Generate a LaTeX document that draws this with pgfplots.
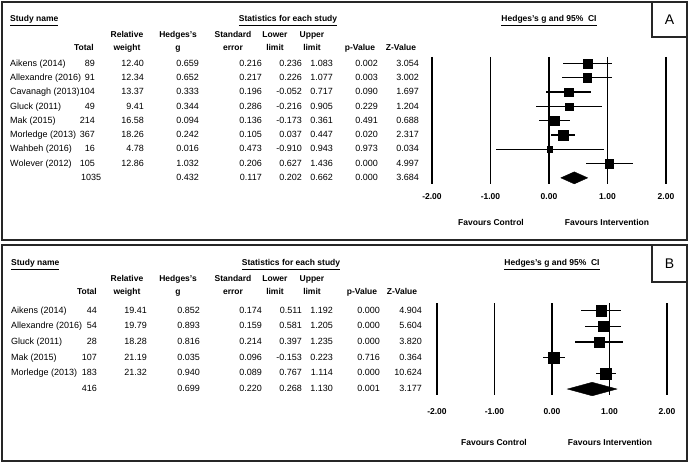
\documentclass[border=0pt]{standalone}
\usepackage{fontspec}
\setmainfont{Liberation Sans}
\usepackage{pgfplots}
\usepackage{pgfplotstable}
\pgfplotsset{compat=1.18}

\pgfplotstableread{
row g lo hi w
1 0.659 0.236 1.083 12.40
2 0.652 0.226 1.077 12.34
3 0.333 -0.052 0.717 13.37
4 0.344 -0.216 0.905 9.41
5 0.094 -0.173 0.361 16.58
6 0.242 0.037 0.447 18.26
7 0.016 -0.910 0.943 4.78
8 1.032 0.627 1.436 12.86
}\studiesA

\pgfplotstableread{
row g lo hi w
1 0.852 0.511 1.192 19.41
2 0.893 0.581 1.205 19.79
3 0.816 0.397 1.235 18.28
4 0.035 -0.153 0.223 21.19
5 0.940 0.767 1.114 21.32
}\studiesB

\newcommand{\dat}{\fontsize{9}{10}\selectfont}
\newcommand{\hdr}{\fontsize{8.5}{9.5}\selectfont\bfseries}

\pgfplotsset{
  forest/.style={
    scale only axis, clip=false,
    xmin=-2, xmax=2,
    axis line style={draw=none},
    ytick=\empty,
    xtick={-2,-1,0,1,2},
    xticklabels={-2.00,-1.00,0.00,1.00,2.00},
    major tick length=0pt,
  },
  sq/.style={
    scatter, only marks, mark=square*, point meta=\thisrow{w},
    scatter/use mapped color={draw=black, fill=black},
    visualization depends on={1.2*sqrt(\thisrow{w}) \as \hs},
    scatter/@pre marker code/.append style={/tikz/mark size=\hs},
    error bars/.cd, x dir=both, x explicit, error mark=none,
    error bar style={line width=1.3pt, black},
  },
}

\begin{document}
\begin{tikzpicture}[x=1pt,y=-1pt,every node/.style={inner sep=0pt}]
\path[use as bounding box] (0,0) rectangle (690,463);

% ---------- Panel A ----------
\draw[line width=1.4pt, black!85] (2,2) rectangle (687,240);
\draw[line width=1.2pt, black!85] (652,2) rectangle (687,37);
\node[font=\fontsize{14}{16}\selectfont] at (669.5,19.5) {A};

\node[anchor=mid west, font=\hdr] at (10,19) {\underline{Study name}};
\node[anchor=mid, font=\hdr] at (288,19) {\underline{Statistics for each study}};
\node[anchor=mid, font=\hdr] at (549,19) {\underline{Hedges's g and 95\%\ \ CI}};
\foreach \x/\a/\b in {127/Relative/weight, 178/Hedges's/g, 233/Standard/error, 275/Lower/limit, 312/Upper/limit}{
  \node[anchor=mid, font=\hdr] at (\x,35) {\a};
  \node[anchor=mid, font=\hdr] at (\x,48) {\b};
}
\node[anchor=mid east, font=\hdr] at (94,48) {Total};
\node[anchor=mid, font=\hdr] at (360,48) {p-Value};
\node[anchor=mid, font=\hdr] at (401,48) {Z-Value};

\foreach \y/\nm/\t/\rw/\g/\se/\lo/\hi/\p/\z in {
 63.5/{Aikens (2014)}/89/12.40/0.659/0.216/0.236/1.083/0.002/3.054,
 77.8/{Allexandre (2016)}/91/12.34/0.652/0.217/0.226/1.077/0.003/3.002,
 92.1/{Cavanagh (2013)}/104/13.37/0.333/0.196/-0.052/0.717/0.090/1.697,
 106.4/{Gluck (2011)}/49/9.41/0.344/0.286/-0.216/0.905/0.229/1.204,
 120.7/{Mak (2015)}/214/16.58/0.094/0.136/-0.173/0.361/0.491/0.688,
 135.0/{Morledge (2013)}/367/18.26/0.242/0.105/0.037/0.447/0.020/2.317,
 149.3/{Wahbeh (2016)}/16/4.78/0.016/0.473/-0.910/0.943/0.973/0.034,
 163.6/{Wolever (2012)}/105/12.86/1.032/0.206/0.627/1.436/0.000/4.997}{
  \node[anchor=mid west, font=\dat] at (10,\y) {\nm};
  \node[anchor=mid east, font=\dat] at (95,\y) {\t};
  \node[anchor=mid east, font=\dat] at (144,\y) {\rw};
  \node[anchor=mid east, font=\dat] at (199,\y) {\g};
  \node[anchor=mid east, font=\dat] at (262,\y) {\se};
  \node[anchor=mid east, font=\dat] at (302,\y) {\lo};
  \node[anchor=mid east, font=\dat] at (333,\y) {\hi};
  \node[anchor=mid east, font=\dat] at (378,\y) {\p};
  \node[anchor=mid east, font=\dat] at (419,\y) {\z};
}
\node[anchor=mid west, font=\dat] at (81,177.9) {1035};
\node[anchor=mid east, font=\dat] at (199,177.9) {0.432};
\node[anchor=mid east, font=\dat] at (262,177.9) {0.117};
\node[anchor=mid east, font=\dat] at (302,177.9) {0.202};
\node[anchor=mid east, font=\dat] at (333,177.9) {0.662};
\node[anchor=mid east, font=\dat] at (378,177.9) {0.000};
\node[anchor=mid east, font=\dat] at (419,177.9) {3.684};

\node[anchor=mid, font=\hdr] at (491,223) {Favours Control};
\node[anchor=mid, font=\hdr] at (607,223) {Favours Intervention};

\begin{axis}[forest, at={(432pt,-184pt)}, anchor=south west,
  width=234pt, height=127pt, ymin=-9.43, ymax=-0.545,
  xticklabel style={font=\hdr, anchor=center, yshift=-13pt}]
  \addplot[black, line width=1.8pt] coordinates {(-2,-0.545) (-2,-9.43)};
  \addplot[black, line width=1.8pt] coordinates {(-1,-0.545) (-1,-9.43)};
  \addplot[black, line width=1.1pt] coordinates {(0,-0.545) (0,-9.43)};
  \addplot[black, line width=1.1pt] coordinates {(1,-0.545) (1,-9.43)};
  \addplot[black, line width=1.8pt] coordinates {(2,-0.545) (2,-9.43)};
  \addplot[sq] table[x=g, y expr=-\thisrow{row},
    x error plus expr=\thisrow{hi}-\thisrow{g},
    x error minus expr=\thisrow{g}-\thisrow{lo}] {\studiesA};
  \addplot[fill=black, draw=black] coordinates {(0.202,-9) (0.432,-8.58) (0.662,-9) (0.432,-9.42)} --cycle;
\end{axis}

% ---------- Panel B ----------
\draw[line width=1.4pt, black!85] (2,245) rectangle (687,461);
\draw[line width=1.2pt, black!85] (652,245) rectangle (687,282);
\node[font=\fontsize{14}{16}\selectfont] at (669.5,263.5) {B};

\node[anchor=mid west, font=\hdr] at (11,263) {\underline{Study name}};
\node[anchor=mid, font=\hdr] at (291,263) {\underline{Statistics for each study}};
\node[anchor=mid, font=\hdr] at (552,263) {\underline{Hedges's g and 95\%\ \ CI}};
\foreach \x/\a/\b in {127/Relative/weight, 178/Hedges's/g, 233/Standard/error, 275/Lower/limit, 312/Upper/limit}{
  \node[anchor=mid, font=\hdr] at (\x,279) {\a};
  \node[anchor=mid, font=\hdr] at (\x,292) {\b};
}
\node[anchor=mid east, font=\hdr] at (97,292) {Total};
\node[anchor=mid, font=\hdr] at (362,292) {p-Value};
\node[anchor=mid, font=\hdr] at (402,292) {Z-Value};

\foreach \y/\nm/\t/\rw/\g/\se/\lo/\hi/\p/\z in {
 310.5/{Aikens (2014)}/44/19.41/0.852/0.174/0.511/1.192/0.000/4.904,
 326.2/{Allexandre (2016)}/54/19.79/0.893/0.159/0.581/1.205/0.000/5.604,
 341.9/{Gluck (2011)}/28/18.28/0.816/0.214/0.397/1.235/0.000/3.820,
 357.6/{Mak (2015)}/107/21.19/0.035/0.096/-0.153/0.223/0.716/0.364,
 373.3/{Morledge (2013)}/183/21.32/0.940/0.089/0.767/1.114/0.000/10.624,
 389.0/{}/416/{}/0.699/0.220/0.268/1.130/0.001/3.177}{
  \node[anchor=mid west, font=\dat] at (11,\y) {\nm};
  \node[anchor=mid east, font=\dat] at (97,\y) {\t};
  \node[anchor=mid east, font=\dat] at (147,\y) {\rw};
  \node[anchor=mid east, font=\dat] at (200,\y) {\g};
  \node[anchor=mid east, font=\dat] at (262,\y) {\se};
  \node[anchor=mid east, font=\dat] at (302,\y) {\lo};
  \node[anchor=mid east, font=\dat] at (333,\y) {\hi};
  \node[anchor=mid east, font=\dat] at (380,\y) {\p};
  \node[anchor=mid east, font=\dat] at (422,\y) {\z};
}

\node[anchor=mid, font=\hdr] at (494,443) {Favours Control};
\node[anchor=mid, font=\hdr] at (610,443) {Favours Intervention};

\begin{axis}[forest, at={(437pt,-395pt)}, anchor=south west,
  width=230pt, height=92pt, ymin=-6.38, ymax=-0.522,
  xticklabel style={font=\hdr, anchor=center, yshift=-17pt}]
  \addplot[black, line width=1.8pt] coordinates {(-2,-0.522) (-2,-6.38)};
  \addplot[black, line width=0.8pt] coordinates {(-1,-0.522) (-1,-6.38)};
  \addplot[black, line width=1.1pt] coordinates {(0,-0.522) (0,-6.38)};
  \addplot[black, line width=1.1pt] coordinates {(1,-0.522) (1,-6.38)};
  \addplot[black, line width=1.8pt] coordinates {(2,-0.522) (2,-6.38)};
  \addplot[sq] table[x=g, y expr=-\thisrow{row},
    x error plus expr=\thisrow{hi}-\thisrow{g},
    x error minus expr=\thisrow{g}-\thisrow{lo}] {\studiesB};
  \addplot[fill=black, draw=black] coordinates {(0.268,-6) (0.699,-5.57) (1.130,-6) (0.699,-6.43)} --cycle;
\end{axis}
\end{tikzpicture}
\end{document}
